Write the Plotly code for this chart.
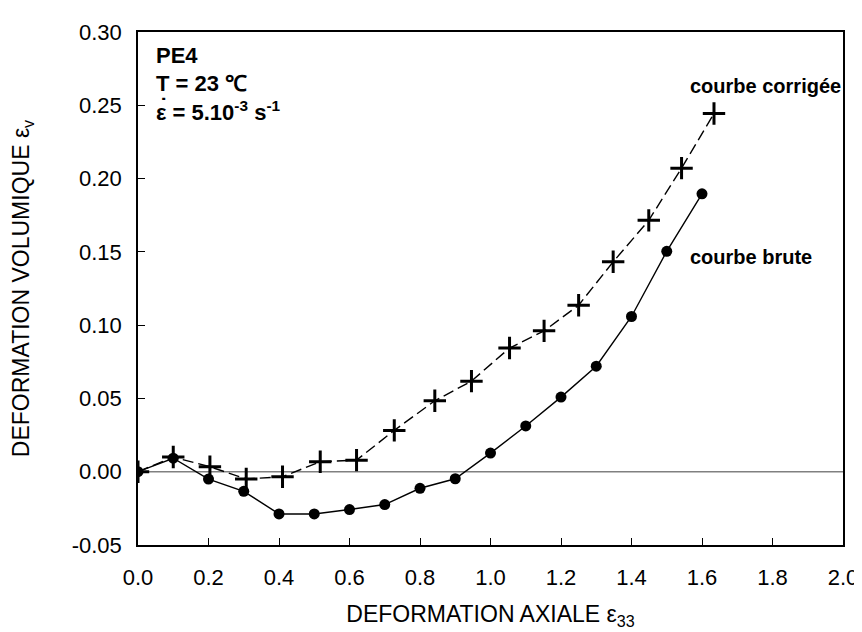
import plotly.graph_objects as go

# raw curve (circles)
brute_x = [0.0, 0.1, 0.2, 0.3, 0.4, 0.5, 0.6, 0.7, 0.8, 0.9, 1.0, 1.1, 1.2, 1.3, 1.4, 1.5, 1.6]
brute_y = [0.0, 0.0092, -0.005, -0.0134, -0.0288, -0.0288, -0.0258, -0.0224, -0.0113, -0.0048,
           0.0127, 0.0312, 0.0509, 0.072, 0.1059, 0.1504, 0.1896]

# corrected curve (plus)
corr_x = [0.0, 0.1, 0.204, 0.307, 0.41, 0.517, 0.62, 0.727, 0.842, 0.946, 1.054, 1.152, 1.25,
          1.348, 1.449, 1.542, 1.634]
corr_y = [0.0, 0.010, 0.0034, -0.005, -0.0034, 0.0068, 0.0079, 0.0282, 0.0484, 0.0618, 0.0844,
          0.0961, 0.1136, 0.1432, 0.1715, 0.2071, 0.2444]

x_ticks = [0.0, 0.2, 0.4, 0.6, 0.8, 1.0, 1.2, 1.4, 1.6, 1.8, 2.0]
y_ticks = [-0.05, 0.0, 0.05, 0.10, 0.15, 0.20, 0.25, 0.30]

FONT = "Arial, Liberation Sans, sans-serif"

fig = go.Figure()

# zero reference line
fig.add_trace(go.Scatter(x=[0, 2.0], y=[0, 0], mode="lines",
                         line=dict(color="#808080", width=1.5), hoverinfo="skip",
                         showlegend=False))

fig.add_trace(go.Scatter(x=corr_x, y=corr_y, mode="lines+markers",
                         line=dict(color="black", width=1.4, dash="11px,5px"),
                         marker=dict(symbol="cross-thin", size=16,
                                     line=dict(color="black", width=3)),
                         showlegend=False))

fig.add_trace(go.Scatter(x=brute_x, y=brute_y, mode="lines+markers",
                         line=dict(color="black", width=1.4),
                         marker=dict(symbol="circle", size=11, color="black"),
                         showlegend=False))

ann_font = dict(family=FONT, size=22, color="black")
lab_font = dict(family=FONT, size=20, color="black")

fig.add_annotation(x=0.045, y=0.284, xref="x", yref="y", text="<b>PE4</b>",
                   showarrow=False, xanchor="left", yanchor="middle", font=ann_font)
fig.add_annotation(x=0.045, y=0.265, xref="x", yref="y", text="<b>T = 23 \u2103</b>",
                   showarrow=False, xanchor="left", yanchor="middle", font=ann_font)
fig.add_annotation(x=0.045, y=0.246, xref="x", yref="y",
                   text="<b>\u03b5 = 5.10<sup>-3</sup> s<sup>-1</sup></b>",
                   showarrow=False, xanchor="left", yanchor="middle", font=ann_font)
# dot above epsilon (time derivative)
fig.add_annotation(x=0.071, y=0.2495, xref="x", yref="y", text="<b>\u02d9</b>",
                   showarrow=False, xanchor="center", yanchor="middle", font=ann_font)
fig.add_annotation(x=1.559, y=0.263, xref="x", yref="y", text="<b>courbe corrigée</b>",
                   showarrow=False, xanchor="left", yanchor="middle", font=lab_font)
fig.add_annotation(x=1.559, y=0.1468, xref="x", yref="y", text="<b>courbe brute</b>",
                   showarrow=False, xanchor="left", yanchor="middle", font=lab_font)

fig.update_layout(
    width=862, height=632,
    margin=dict(l=130, r=18, t=22, b=95),
    paper_bgcolor="white", plot_bgcolor="white",
    font=dict(family=FONT, size=22, color="black"),
    xaxis=dict(range=[0, 2.0], tickvals=x_ticks, ticktext=[f"{v:.1f}" for v in x_ticks],
               ticks="inside", ticklen=7, tickwidth=1.3, tickcolor="black",
               showline=True, linecolor="black", linewidth=1.5, mirror=True,
               showgrid=False, zeroline=False, ticklabelstandoff=12,
               title=dict(text="DEFORMATION AXIALE \u03b5<sub>33</sub>", standoff=17,
                          font=dict(size=23))),
    yaxis=dict(range=[-0.05, 0.30], tickvals=y_ticks, ticktext=[f"{v:.2f}" for v in y_ticks],
               ticks="inside", ticklen=7, tickwidth=1.3, tickcolor="black",
               showline=True, linecolor="black", linewidth=1.5, mirror=True,
               showgrid=False, zeroline=False, ticklabelstandoff=10,
               title=dict(text="DEFORMATION VOLUMIQUE \u03b5<sub>v</sub>", standoff=36,
                          font=dict(size=23))),
)

fig.write_html("out.html")
